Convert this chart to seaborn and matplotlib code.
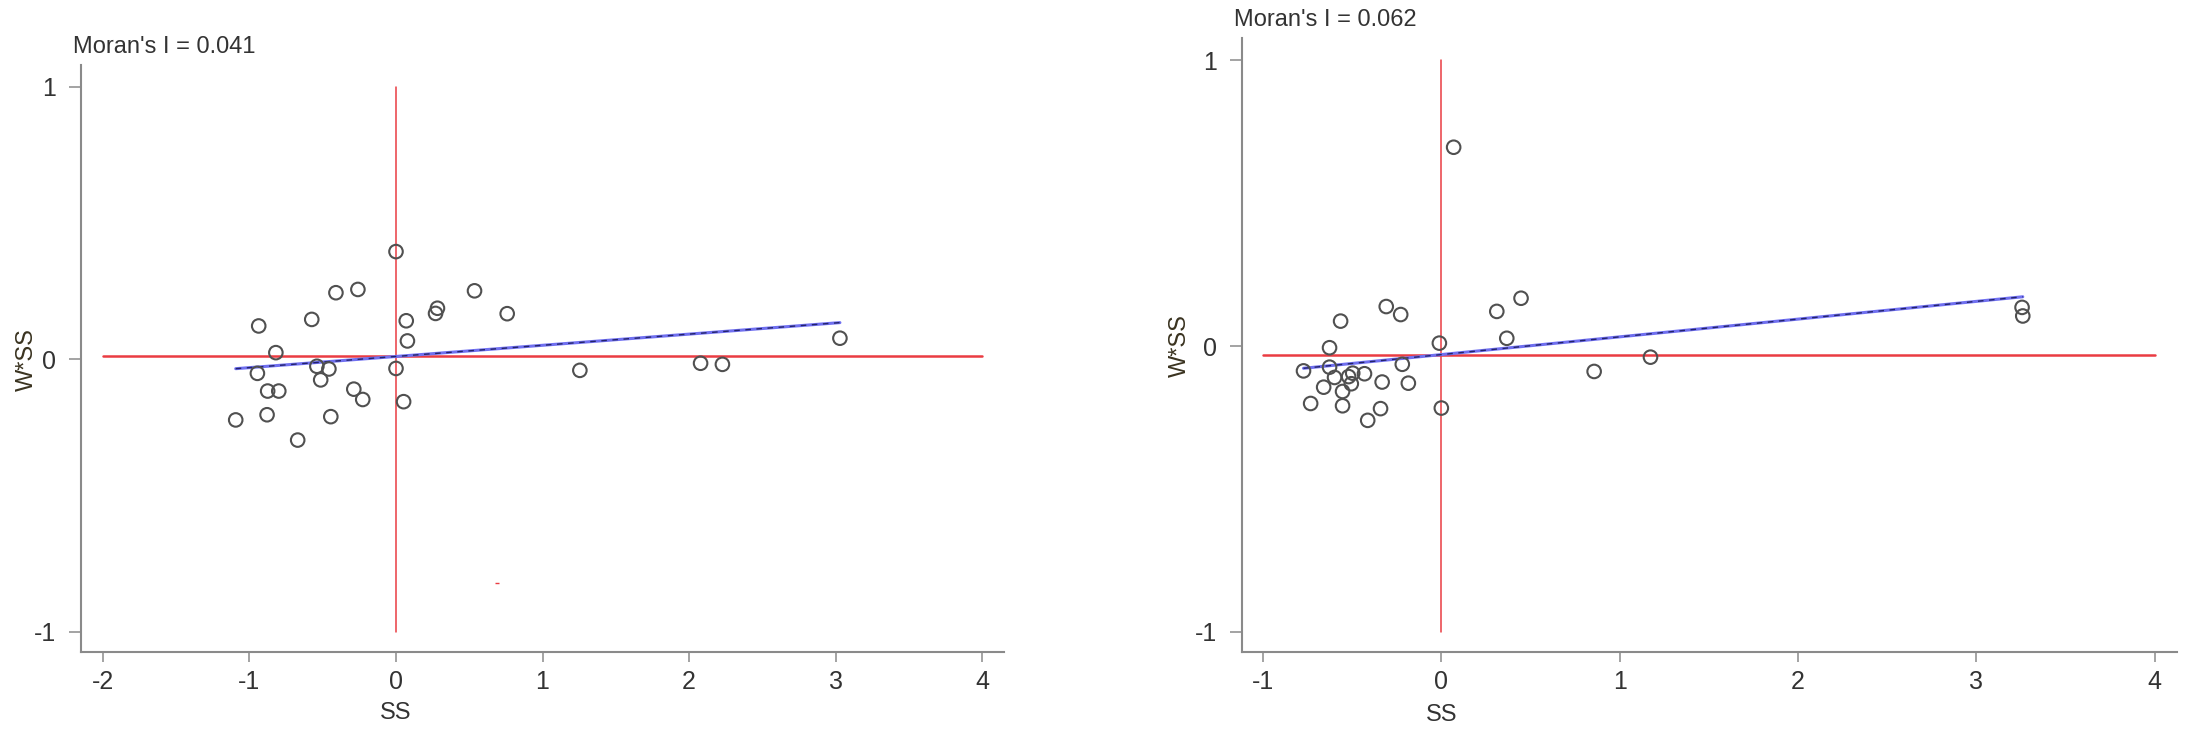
import matplotlib
matplotlib.use("Agg")
import matplotlib.pyplot as plt
import numpy as np
import pandas as pd
import seaborn as sns

# left panel (Moran's I = 0.041)
SS_LEFT = [0.00, -0.41, -0.26, 0.536, 0.283, 0.27, 0.759, 0.07, -0.575, -0.937,
           0.078, -0.82, 3.03, 0.00, -0.54, -0.458, -0.946, -0.514, -0.876, -0.80,
           -0.288, -0.227, 0.052, -0.88, -0.445, -1.094, -0.671, 1.255, 2.079, 2.228]
WSS_LEFT = [0.395, 0.244, 0.256, 0.251, 0.187, 0.168, 0.167, 0.141, 0.146, 0.122,
            0.067, 0.024, 0.077, -0.034, -0.026, -0.036, -0.052, -0.076, -0.117, -0.117,
            -0.11, -0.148, -0.156, -0.204, -0.211, -0.223, -0.297, -0.041, -0.015, -0.019]

# right panel (Moran's I = 0.062)
SS_RIGHT = [-0.565, -0.309, -0.228, 0.311, 0.447, 0.367, -0.011, -0.627, -0.773, -0.627,
            -0.219, -0.599, -0.520, -0.497, -0.431, -0.505, -0.332, -0.185, -0.66, -0.554,
            -0.733, -0.554, -0.341, 0.0, -0.413, 0.069, 3.257, 3.261, 0.857, 1.173]
WSS_RIGHT = [0.087, 0.138, 0.110, 0.121, 0.167, 0.027, 0.010, -0.006, -0.087, -0.074,
             -0.064, -0.110, -0.107, -0.095, -0.097, -0.132, -0.126, -0.130, -0.144, -0.159,
             -0.201, -0.209, -0.219, -0.217, -0.260, 0.695, 0.135, 0.105, -0.089, -0.039]

MORAN_I = [0.041, 0.062]
MEAN_WSS = [0.01, -0.03]          # level of the horizontal red reference line
HLINE_START = [-2, -1]
X_TICKS = [[-2, -1, 0, 1, 2, 3, 4], [-1, 0, 1, 2, 3, 4]]
Y_TICKS = [-1, 0, 1]
STRAY_X, STRAY_Y = 0.69, -0.82    # small red mark in the left panel

TEXT = "#333333"
AXIS = "#8a8a8a"
RED = "#ea3c42"

sns.set_style("white")
plt.rcParams["font.family"] = ["Liberation Sans", "DejaVu Sans"]

fig = plt.figure(figsize=(21.93, 7.36), dpi=100)
ax_l = fig.add_axes([81 / 2193, 84 / 736, 923 / 2193, 587 / 736])
ax_r = fig.add_axes([1242 / 2193, 84 / 736, 935 / 2193, 614 / 736])

panels = [
    (ax_l, SS_LEFT, WSS_LEFT, (-2.15, 4.15), (-1.075, 1.08)),
    (ax_r, SS_RIGHT, WSS_RIGHT, (-1.118, 4.126), (-1.07, 1.077)),
]

for i, (ax, xs, ys, xlim, ylim) in enumerate(panels):
    df = pd.DataFrame({"SS": xs, "W*SS": ys})

    # quadrant lines
    ax.plot([0, 0], [-1, 1], color=RED, lw=1.1, zorder=1)
    ax.plot([HLINE_START[i], 4], [MEAN_WSS[i], MEAN_WSS[i]], color=RED, lw=1.8, zorder=1)

    # Moran's I slope through the mean point
    x_fit = np.array([df["SS"].min(), df["SS"].max()])
    y_fit = MEAN_WSS[i] + MORAN_I[i] * x_fit
    ax.plot(x_fit, y_fit, color="#7070f0", lw=2.2, zorder=2)
    ax.plot(x_fit, y_fit, color="#23236b", lw=1.0, ls=(0, (4, 4)), zorder=3)

    sns.scatterplot(data=df, x="SS", y="W*SS", ax=ax, marker="o", s=95,
                    facecolor="none", edgecolor="#505050", linewidth=1.5, zorder=4)

    ax.set_xlim(*xlim)
    ax.set_ylim(*ylim)
    ax.set_xticks(X_TICKS[i])
    ax.set_yticks(Y_TICKS)
    ax.set_xticklabels([str(t) for t in X_TICKS[i]])
    ax.set_yticklabels([str(t) for t in Y_TICKS])

    for side in ["top", "right"]:
        ax.spines[side].set_visible(False)
    for side in ["left", "bottom"]:
        ax.spines[side].set_color(AXIS)
        ax.spines[side].set_linewidth(1.5)

    ax.tick_params(axis="both", colors=AXIS, labelcolor=TEXT, labelsize=18,
                   direction="out", width=1.1, left=True, bottom=True)
    ax.tick_params(axis="y", length=9, pad=9)
    ax.tick_params(axis="x", length=7, pad=6)

    ax.set_xlabel("SS", fontsize=17, color=TEXT)
    ax.set_ylabel("W*SS", fontsize=17, color="#3a3320")
    ax.xaxis.set_label_coords((0 - xlim[0]) / (xlim[1] - xlim[0]), -0.085)
    ax.yaxis.set_label_coords(-0.047 if i == 0 else -0.055, (0 - ylim[0]) / (ylim[1] - ylim[0]))

    ax.annotate(f"Moran's I = {MORAN_I[i]:.3f}", xy=(0, 1), xycoords="axes fraction",
                xytext=(-8, 7), textcoords="offset pixels", fontsize=17,
                color=TEXT, ha="left", va="bottom")

ax_l.plot([STRAY_X], [STRAY_Y], marker="_", color=RED, ms=3, mew=1)

fig.savefig("out.png", dpi=100)
